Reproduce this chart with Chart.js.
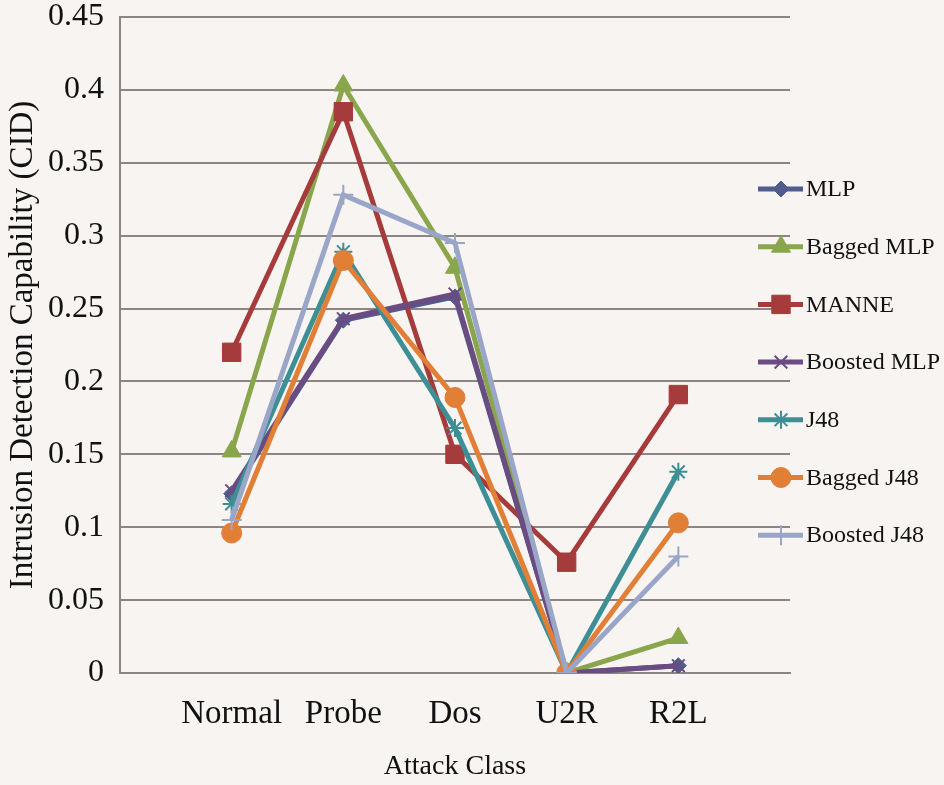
<!DOCTYPE html>
<html>
<head>
<meta charset="utf-8">
<script src="https://cdn.jsdelivr.net/npm/chart.js@4"></script>
<style>
html,body{margin:0;padding:0;background:#f7f4f1;}
#wrap{width:944px;height:785px;position:relative;}
</style>
</head>
<body>
<div id="wrap"><canvas id="c" width="944" height="785"></canvas></div>
<script>
const categories = ['Normal', 'Probe', 'Dos', 'U2R', 'R2L'];
const yTicks = [0, 0.05, 0.1, 0.15, 0.2, 0.25, 0.3, 0.35, 0.4, 0.45];
const seriesNames = ['MLP', 'Bagged MLP', 'MANNE', 'Boosted MLP', 'J48', 'Bagged J48', 'Boosted J48'];
const mlp        = [0.123, 0.242, 0.258, 0.0, 0.005];
const baggedMlp  = [0.152, 0.403, 0.278, 0.0, 0.024];
const manne      = [0.220, 0.385, 0.150, 0.076, 0.191];
const boostedMlp = [0.125, 0.243, 0.260, 0.0, 0.005];
const j48        = [0.116, 0.289, 0.168, 0.0, 0.138];
const baggedJ48  = [0.096, 0.283, 0.189, 0.0, 0.103];
const boostedJ48 = [0.105, 0.328, 0.295, 0.0, 0.080];

const seriesValues = [mlp, baggedMlp, manne, boostedMlp, j48, baggedJ48, boostedJ48];
const colors = ['#4e5c8e', '#8aa64c', '#a53b3a', '#6a4b82', '#3e8f95', '#e27f37', '#9aa6c8'];
const markers = ['rectRot', 'triangle', 'rect', 'crossRot', 'star', 'circle', 'cross'];
const radii = [8, 11, 13, 9, 9, 10, 10];
const thinMarkers = ['crossRot', 'star', 'cross'];

const datasets = seriesValues.map((vals, i) => ({
  label: seriesNames[i],
  data: vals.map((v, k) => ({x: k + 1, y: v})),
  borderColor: colors[i],
  backgroundColor: colors[i],
  borderWidth: 5,
  pointStyle: markers[i],
  pointRadius: radii[i],
  pointBorderWidth: thinMarkers.includes(markers[i]) ? 2 : 1,
  pointBorderColor: colors[i],
  pointBackgroundColor: colors[i],
  tension: 0,
  order: -i
}));

const serif = '"Liberation Serif", "DejaVu Serif", serif';

const legendPlugin = {
  id: 'customLegend',
  afterDraw(chart) {
    const ctx = chart.ctx;
    ctx.save();
    const x0 = 758, x1 = 803, mx = 781;
    chart.data.datasets.forEach((d, i) => {
      const y = 189 + i * 57.7;
      ctx.strokeStyle = d.borderColor;
      ctx.fillStyle = d.backgroundColor;
      ctx.lineWidth = 5;
      ctx.beginPath();
      ctx.moveTo(x0, y); ctx.lineTo(x1, y);
      ctx.stroke();
      ctx.lineWidth = d.pointBorderWidth;
      Chart.helpers.drawPoint(ctx, {pointStyle: d.pointStyle, radius: d.pointRadius, rotation: 0, borderWidth: d.pointBorderWidth}, mx, y);
      ctx.fillStyle = '#111';
      ctx.font = '24px ' + serif;
      ctx.textBaseline = 'middle';
      ctx.textAlign = 'left';
      ctx.fillText(d.label, 806, y + 1);
    });
    ctx.restore();
  }
};

const bgPlugin = {
  id: 'bg',
  beforeDraw(chart) {
    const ctx = chart.ctx;
    ctx.save();
    ctx.fillStyle = '#f7f4f1';
    ctx.fillRect(0, 0, chart.width, chart.height);
    ctx.restore();
  }
};

new Chart(document.getElementById('c'), {
  type: 'line',
  data: {datasets},
  options: {
    responsive: false,
    animation: false,
    layout: {padding: {top: 0, right: 154, bottom: 0, left: 0}},
    plugins: {legend: {display: false}, tooltip: {enabled: false}},
    scales: {
      x: {
        type: 'linear',
        min: 0, max: 6,
        afterBuildTicks(scale) {
          scale.ticks = categories.map((c, i) => ({value: i + 1}));
        },
        ticks: {
          callback: (v) => categories[v - 1] || '',
          color: '#111',
          font: {family: serif, size: 33},
          padding: 22,
          maxRotation: 0,
          autoSkip: false
        },
        grid: {display: false, drawTicks: false},
        border: {display: true, color: '#8d8584', width: 2},
        title: {display: true, text: 'Attack Class', color: '#111', font: {family: serif, size: 28}, padding: {top: 4, bottom: 2}},
        afterFit(scale) { scale.height = 112; scale.paddingLeft = 0; scale.paddingRight = 0; }
      },
      y: {
        min: 0, max: 0.45,
        afterBuildTicks(scale) {
          scale.ticks = yTicks.map(v => ({value: v}));
        },
        ticks: {
          callback: (v) => String(v),
          color: '#111',
          font: {family: serif, size: 32},
          padding: 16
        },
        grid: {color: '#8d8584', lineWidth: 2, drawTicks: false},
        border: {display: true, color: '#8d8584', width: 2},
        title: {display: true, text: 'Intrusion Detection Capability (CID)', color: '#111', font: {family: serif, size: 33}, padding: {top: 4, bottom: 0}},
        afterFit(scale) { scale.width = 120; scale.paddingTop = 17; scale.paddingBottom = 0; }
      }
    }
  },
  plugins: [bgPlugin, legendPlugin]
});
</script>
</body>
</html>
